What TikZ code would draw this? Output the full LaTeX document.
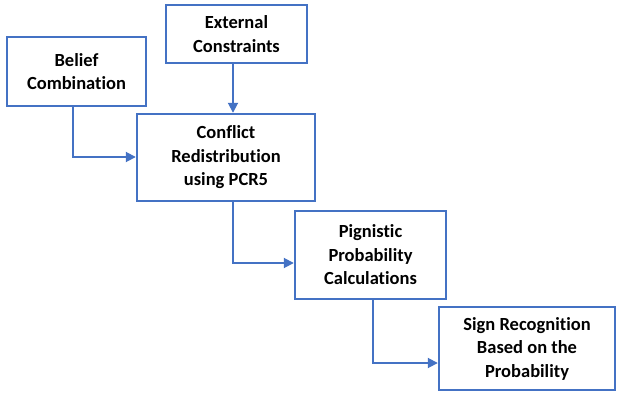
\documentclass[tikz,border=0pt]{standalone}
\usepackage{fontspec}
\setmainfont{Carlito}[Ligatures=NoCommon]
\usetikzlibrary{arrows.meta}
\definecolor{flowblue}{RGB}{68,114,196}
\begin{document}
\begin{tikzpicture}[x=1pt,y=-1pt,
  stage/.style={draw=flowblue,line width=2.4pt,fill=white,align=center,
    font=\fontsize{18.5}{23.5}\selectfont\bfseries,inner sep=0pt},
  link/.style={draw=flowblue,line width=1.8pt,-{Triangle[length=10pt,width=10pt]}}]
\useasboundingbox (0,0) rectangle (624,394);
\node[stage,minimum width=139pt,minimum height=69pt] (belief) at (76.5,71.5) {Belief\\Combination};
\node[stage,minimum width=141pt,minimum height=58pt] (external) at (236.5,34) {External\\Constraints};
\node[stage,minimum width=178pt,minimum height=87pt] (conflict) at (226,157.5) {Conflict\\Redistribution\\using PCR5};
\node[stage,minimum width=151pt,minimum height=88pt] (pign) at (370.5,255) {Pignistic\\Probability\\Calculations};
\node[stage,minimum width=176pt,minimum height=83pt] (sign) at (527,348.5) {Sign Recognition\\Based on the\\Probability};
\draw[link] (belief.south -| 73,0) |- (conflict.west |- 0,157);
\draw[link] (external.south -| 233,0) -- (conflict.north -| 233,0);
\draw[link] (conflict.south -| 233,0) |- (pign.west |- 0,263);
\draw[link] (pign.south -| 373,0) |- (sign.west |- 0,363);
\end{tikzpicture}
\end{document}
